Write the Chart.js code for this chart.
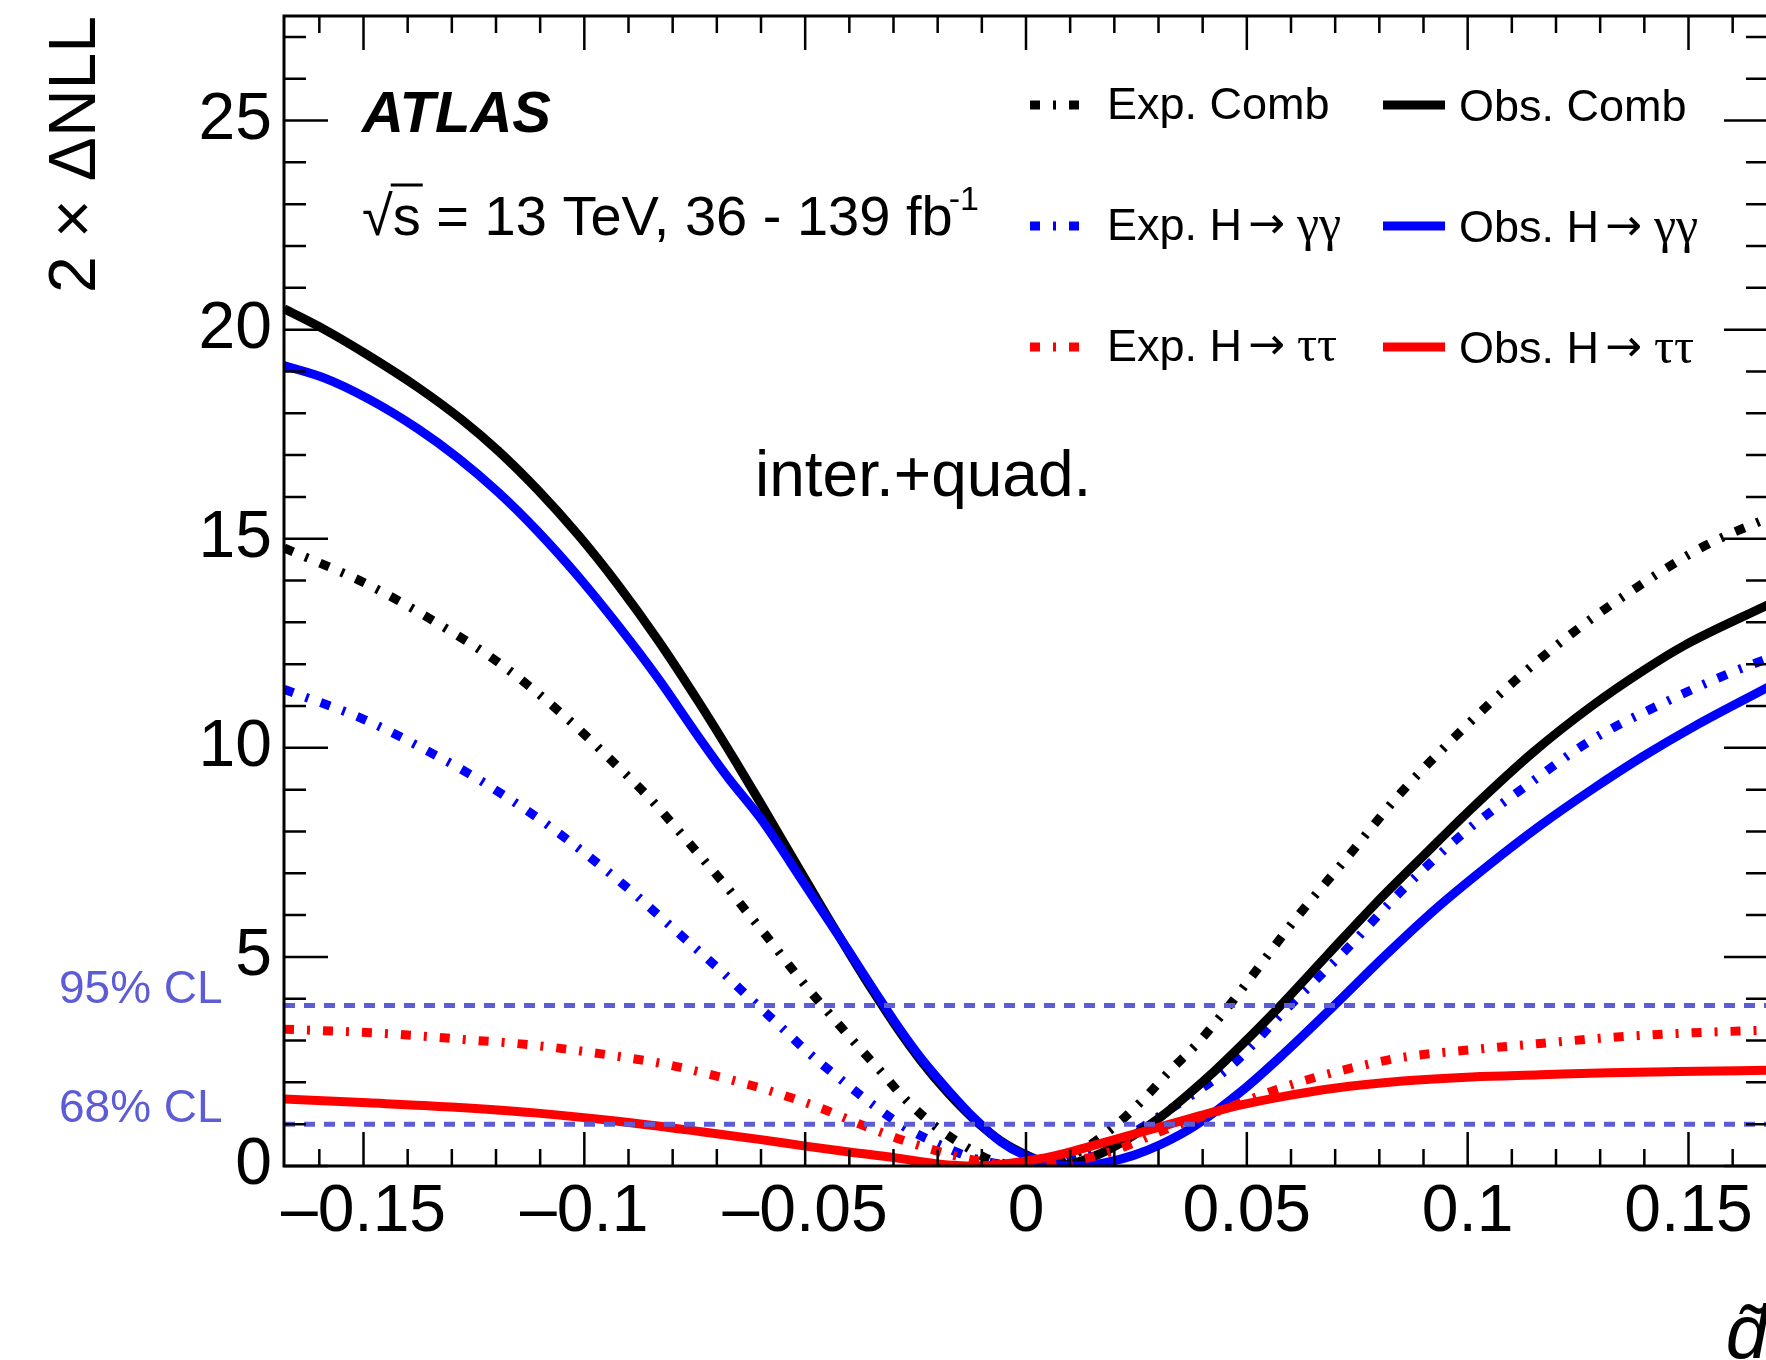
<!DOCTYPE html>
<html>
<head>
<meta charset="utf-8">
<script src="https://cdn.jsdelivr.net/npm/chart.js@4.4.1/dist/chart.umd.min.js"></script>
<style>
  html, body { margin: 0; padding: 0; background: #fff; overflow: hidden; }
  #wrap { width: 1800px; height: 1360px; }
</style>
</head>
<body>
<div id="wrap"><canvas id="nllChart" width="1800" height="1360"></canvas></div>
<script>
// scan values
var expCombX = [-0.168, -0.1497, -0.1339, -0.1188, -0.1044, -0.0924, -0.0856, -0.0795, -0.0735, -0.0678, -0.0621, -0.0593, -0.051, -0.0449, -0.0393, -0.0332, -0.0268, -0.0204, -0.0136, -0.0079, 0, 0.0079, 0.0136, 0.0204, 0.0268, 0.0328, 0.0389, 0.0449, 0.0505, 0.0612, 0.0729, 0.0845, 0.097, 0.1102, 0.1234, 0.1382, 0.1537, 0.168];
var expCombY = [14.78, 13.94, 13.02, 11.99, 10.75, 9.55, 8.84, 8.12, 7.38, 6.68, 5.93, 5.57, 4.45, 3.69, 3.01, 2.30, 1.54, 0.94, 0.46, 0.14, 0, 0.14, 0.44, 0.98, 1.62, 2.3, 2.94, 3.69, 4.45, 5.93, 7.4, 8.88, 10.25, 11.56, 12.72, 13.83, 14.83, 15.5];

var obsCombX = [-0.168, -0.1588, -0.149, -0.1377, -0.1278, -0.1195, -0.1105, -0.1014, -0.0924, -0.0833, -0.0742, -0.0659, -0.060, -0.0555, -0.0502, -0.0449, -0.0396, -0.0344, -0.0291, -0.0238, -0.0177, -0.0117, -0.0057, 0.0004, 0.007, 0.0125, 0.0185, 0.0245, 0.0306, 0.0366, 0.0427, 0.0487, 0.0573, 0.0682, 0.0791, 0.09, 0.1009, 0.1149, 0.1281, 0.1398, 0.1491, 0.168];
var obsCombY = [20.5, 20.0, 19.39, 18.62, 17.85, 17.1, 16.16, 15.09, 13.9, 12.57, 11.11, 9.7, 8.66, 7.85, 6.9, 5.95, 5.02, 4.14, 3.29, 2.52, 1.75, 1.11, 0.6, 0.25, 0, 0.12, 0.38, 0.74, 1.18, 1.7, 2.27, 2.88, 3.8, 5.04, 6.27, 7.42, 8.55, 9.9, 11.0, 11.85, 12.45, 13.42];

var expGGX = [-0.168, -0.1497, -0.1331, -0.1256, -0.118, -0.1105, -0.1033, -0.0961, -0.089, -0.0825, -0.0757, -0.0689, -0.0625, -0.0555, -0.0495, -0.0423, -0.0351, -0.0276, -0.0193, -0.0117, 0, 0.0117, 0.0193, 0.0306, 0.0464, 0.0581, 0.0721, 0.0853, 0.0993, 0.1125, 0.1281, 0.1437, 0.1592, 0.168];
var expGGY = [11.4, 10.67, 9.79, 9.35, 8.85, 8.32, 7.76, 7.16, 6.54, 5.93, 5.29, 4.65, 4.01, 3.33, 2.73, 2.1, 1.5, 0.94, 0.5, 0.18, 0, 0.18, 0.5, 1.22, 2.39, 3.66, 5.13, 6.61, 7.98, 9.03, 10.19, 11.04, 11.78, 12.14];

var obsGGX = [-0.168, -0.1588, -0.149, -0.1377, -0.1286, -0.1195, -0.1105, -0.1014, -0.0924, -0.0833, -0.0742, -0.0674, -0.060, -0.0502, -0.0449, -0.0396, -0.0344, -0.0291, -0.0238, -0.0177, -0.0117, -0.0057, 0, 0.006, 0.0117, 0.018, 0.0245, 0.0306, 0.0381, 0.0487, 0.0581, 0.0698, 0.0814, 0.0931, 0.1048, 0.1164, 0.1281, 0.1398, 0.1514, 0.168];
var obsGGY = [19.14, 18.84, 18.35, 17.63, 16.93, 16.11, 15.17, 14.1, 12.93, 11.66, 10.27, 9.28, 8.3, 6.75, 5.9, 5.05, 4.2, 3.35, 2.58, 1.82, 1.14, 0.58, 0.24, 0.05, 0, 0.08, 0.26, 0.52, 0.95, 1.78, 2.66, 3.84, 5.04, 6.18, 7.2, 8.14, 9.0, 9.8, 10.52, 11.45];

var expTTX = [-0.168, -0.1528, -0.1437, -0.1346, -0.1256, -0.1165, -0.1075, -0.0988, -0.0897, -0.081, -0.072, -0.0633, -0.0593, -0.0464, -0.0381, -0.0291, -0.0208, -0.0117, 0, 0.0117, 0.0208, 0.0313, 0.0464, 0.0565, 0.0659, 0.076, 0.0853, 0.1009, 0.1164, 0.132, 0.1476, 0.168];
var expTTY = [3.27, 3.21, 3.16, 3.09, 3.01, 2.94, 2.84, 2.72, 2.58, 2.42, 2.2, 1.96, 1.84, 1.38, 1.02, 0.66, 0.38, 0.14, 0, 0.14, 0.4, 0.86, 1.42, 1.82, 2.13, 2.4, 2.6, 2.78, 2.93, 3.07, 3.17, 3.25];

var obsTTX = [-0.168, -0.149, -0.1301, -0.1112, -0.0924, -0.0735, -0.060, -0.0495, -0.0396, -0.0298, -0.02, -0.0117, -0.0026, 0.0064, 0.0155, 0.023, 0.0306, 0.0396, 0.0487, 0.0581, 0.0698, 0.0853, 0.1009, 0.1164, 0.132, 0.1476, 0.168];
var obsTTY = [1.6, 1.51, 1.41, 1.27, 1.07, 0.82, 0.63, 0.47, 0.33, 0.2, 0.05, 0, 0.08, 0.24, 0.5, 0.72, 0.94, 1.21, 1.46, 1.66, 1.86, 2.03, 2.13, 2.18, 2.23, 2.26, 2.29];

var clLevels = [1, 3.84];
var clLabels = ['68% CL', '95% CL'];

var xTickVals = [-0.15, -0.1, -0.05, 0, 0.05, 0.1, 0.15];
var xTickLabels = ['\u20130.15', '\u20130.1', '\u20130.05', '0', '0.05', '0.1', '0.15'];
var yTickVals = [0, 5, 10, 15, 20, 25];
var yTickLabels = ['0', '5', '10', '15', '20', '25'];

var legendRows = [
    ['Exp. Comb', 'Obs. Comb'],
    ['Exp. H\u2192\u03b3\u03b3', 'Obs. H\u2192\u03b3\u03b3'],
    ['Exp. H\u2192\u03c4\u03c4', 'Obs. H\u2192\u03c4\u03c4']
];

var FONT = '"Liberation Sans", Arial, Helvetica, sans-serif';
var CL_COLOR = 'rgb(92, 92, 214)';
var DASHDOT = [10, 13, 3, 13];

function pts(xs, ys) {
    return xs.map(function(x, i) { return { x: x, y: ys[i] }; });
}

function curve(label, xs, ys, color, dashed) {
    return {
        label: label,
        data: pts(xs, ys),
        borderColor: color,
        borderWidth: 9,
        borderDash: dashed ? DASHDOT : [],
        pointRadius: 0,
        fill: false,
        cubicInterpolationMode: 'monotone'
    };
}

function clLine(level) {
    return {
        label: 'cl' + level,
        data: [{ x: -0.168, y: level }, { x: 0.168, y: level }],
        borderColor: CL_COLOR,
        borderWidth: 5,
        borderDash: [11, 9],
        pointRadius: 0,
        fill: false
    };
}

// text with a sans part, an arrow and greek letters
function drawLabel(ctx, label, x, y) {
    var parts = label.split('\u2192');
    ctx.font = '45px ' + FONT;
    ctx.fillText(parts[0], x, y);
    if (parts.length < 2) return;
    x += ctx.measureText(parts[0]).width + 6;
    ctx.font = '44px "DejaVu Sans", sans-serif';
    ctx.fillText('\u2192', x, y - 2);
    x += ctx.measureText('\u2192').width + 12;
    ctx.font = '50px "Liberation Serif", "DejaVu Serif", serif';
    ctx.fillText(parts[1], x, y);
}

// frame with ROOT-style inward ticks on all four sides
var framePlugin = {
    id: 'frame',
    afterDatasetsDraw: function(chart) {
        var ctx = chart.ctx, a = chart.chartArea;
        var xs = chart.scales.x, ys = chart.scales.y;
        ctx.save();
        ctx.strokeStyle = '#000';
        ctx.lineWidth = 2.5;
        ctx.beginPath();
        for (var i = -17; i <= 17; i++) {
            var v = i / 100;
            if (v < xs.min || v > xs.max) continue;
            var px = xs.getPixelForValue(v);
            var len = (i % 5 === 0) ? 34 : 17;
            ctx.moveTo(px, a.bottom); ctx.lineTo(px, a.bottom - len);
            ctx.moveTo(px, a.top); ctx.lineTo(px, a.top + len);
        }
        for (var k = 0; k <= 27; k++) {
            var py = ys.getPixelForValue(k);
            var l2 = (k % 5 === 0) ? 44 : 22;
            ctx.moveTo(a.left, py); ctx.lineTo(a.left + l2, py);
            ctx.moveTo(a.right, py); ctx.lineTo(a.right - l2, py);
        }
        ctx.stroke();
        ctx.lineWidth = 3;
        ctx.strokeRect(a.left, a.top, a.right - a.left, a.bottom - a.top);
        ctx.restore();
    }
};

var textPlugin = {
    id: 'texts',
    afterDraw: function(chart) {
        var ctx = chart.ctx;
        var ys = chart.scales.y;
        ctx.save();
        ctx.textBaseline = 'alphabetic';
        ctx.textAlign = 'left';
        ctx.fillStyle = '#000';

        ctx.font = 'italic bold 58px ' + FONT;
        ctx.fillText('ATLAS', 362, 132);

        // sqrt(s) line
        ctx.font = '56px ' + FONT;
        var x0 = 362, base = 235;
        ctx.fillText('\u221a', x0, base);
        var wr = ctx.measureText('\u221a').width;
        ctx.fillText('s', x0 + wr, base);
        var ws = ctx.measureText('s').width;
        ctx.lineWidth = 3;
        ctx.strokeStyle = '#000';
        ctx.beginPath();
        ctx.moveTo(x0 + wr - 2, base - 50);
        ctx.lineTo(x0 + wr + ws + 2, base - 50);
        ctx.stroke();
        var rest = ' = 13 TeV, 36 - 139 fb';
        ctx.fillText(rest, x0 + wr + ws, base);
        var wrest = ctx.measureText(rest).width;
        ctx.font = '34px ' + FONT;
        ctx.fillText('-1', x0 + wr + ws + wrest - 4, base - 25);

        ctx.font = '64px ' + FONT;
        ctx.fillText('inter.+quad.', 755, 496);

        // confidence level labels
        ctx.font = '46px ' + FONT;
        ctx.fillStyle = CL_COLOR;
        clLevels.forEach(function(lv, i) {
            ctx.fillText(clLabels[i], 59, ys.getPixelForValue(lv) - 2);
        });

        // legend: two columns (expected / observed)
        var sampleX = [1030, 1383], sampleLen = [50, 62], textX = [1107, 1459];
        var baseOff = [14, 16], rowY = [105, 226, 347];
        legendRows.forEach(function(row, r) {
            row.forEach(function(label, c) {
                var ds = chart.data.datasets.find(function(d) { return d.label === label; });
                ctx.strokeStyle = ds.borderColor;
                ctx.lineWidth = 9;
                ctx.setLineDash(ds.borderDash);
                ctx.beginPath();
                ctx.moveTo(sampleX[c], rowY[r]);
                ctx.lineTo(sampleX[c] + sampleLen[c], rowY[r]);
                ctx.stroke();
                ctx.setLineDash([]);
                ctx.fillStyle = '#000';
                drawLabel(ctx, label, textX[c], rowY[r] + baseOff[c]);
            });
        });
        ctx.restore();
    }
};

document.addEventListener("DOMContentLoaded", function() {
    var ctx = document.getElementById("nllChart").getContext("2d");
    new Chart(ctx, {
        type: "line",
        data: {
            datasets: [
                clLine(clLevels[1]),
                clLine(clLevels[0]),
                curve(legendRows[2][1], obsTTX, obsTTY, "#ff0000", false),
                curve(legendRows[2][0], expTTX, expTTY, "#ff0000", true),
                curve(legendRows[1][1], obsGGX, obsGGY, "#0000ff", false),
                curve(legendRows[0][1], obsCombX, obsCombY, "#000000", false),
                curve(legendRows[1][0], expGGX, expGGY, "#0000ff", true),
                curve(legendRows[0][0], expCombX, expCombY, "#000000", true)
            ]
        },
        options: {
            responsive: false,
            animation: false,
            devicePixelRatio: 1,
            layout: { padding: { top: 16, right: 32, bottom: 0, left: 0 } },
            plugins: {
                legend: { display: false },
                tooltip: { enabled: false }
            },
            scales: {
                x: {
                    type: "linear",
                    min: -0.168,
                    max: 0.168,
                    afterBuildTicks: function(s) { s.ticks = xTickVals.map(function(v) { return { value: v }; }); },
                    afterFit: function(s) { s.height = 194; s.paddingLeft = 0; s.paddingRight = 0; },
                    grid: { display: false, drawTicks: false },
                    border: { display: false },
                    ticks: {
                        color: "#000",
                        font: { family: FONT, size: 66, lineHeight: 1 },
                        padding: 14,
                        autoSkip: false,
                        maxRotation: 0,
                        minRotation: 0,
                        callback: function(v) { return xTickLabels[xTickVals.indexOf(v)]; }
                    },
                    title: {
                        display: true,
                        text: "d\u0303",
                        align: "end",
                        color: "#000",
                        font: { family: FONT, size: 76, style: "italic", lineHeight: 0.6 },
                        padding: 0
                    }
                },
                y: {
                    type: "linear",
                    min: 0,
                    max: 27.5,
                    afterBuildTicks: function(s) { s.ticks = yTickVals.map(function(v) { return { value: v }; }); },
                    afterFit: function(s) { s.width = 284; s.paddingTop = 0; s.paddingBottom = 0; },
                    grid: { display: false, drawTicks: false },
                    border: { display: false },
                    ticks: {
                        color: "#000",
                        font: { family: FONT, size: 66, lineHeight: 1 },
                        padding: 12,
                        callback: function(v) { return yTickLabels[yTickVals.indexOf(v)]; }
                    },
                    title: {
                        display: true,
                        text: "2 \u00d7 \u0394NLL",
                        align: "end",
                        color: "#000",
                        font: { family: FONT, size: 66, lineHeight: 1 },
                        padding: { top: 44, bottom: 0 }
                    }
                }
            }
        },
        plugins: [framePlugin, textPlugin]
    });
});
</script>
</body>
</html>
